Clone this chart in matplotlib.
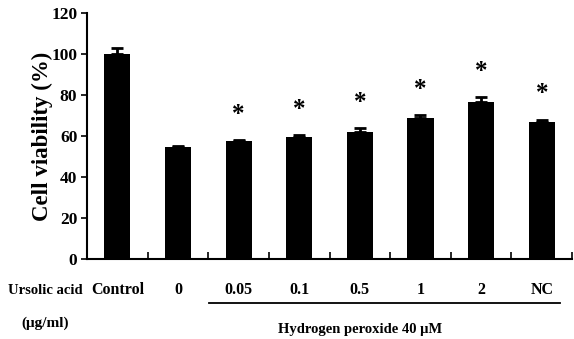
import matplotlib.pyplot as plt
import numpy as np

groups = ["Control", "0", "0.05", "0.1", "0.5", "1", "2", "NC"]
viability = [100, 54.5, 57.5, 59.5, 62, 69, 76.5, 67]
errors = [3, 0.8, 0.6, 0.8, 2, 1, 2.5, 1]
significant = [False, False, True, True, True, True, True, True]

plt.rcParams['font.family'] = ['Liberation Serif', 'DejaVu Serif']
plt.rcParams['font.weight'] = 'bold'

fig = plt.figure(figsize=(5.74, 3.39), dpi=100)
ax = fig.add_axes([0.1516, 0.236, 0.845, 0.7257])

x = np.arange(len(groups))
ax.bar(x, viability, width=0.43, color='black', zorder=2)
ax.errorbar(x, viability, yerr=[np.zeros(len(errors)), errors], fmt='none',
            ecolor='black', elinewidth=2, capsize=4, capthick=2, zorder=3)

for xi, v, e, s in zip(x, viability, errors, significant):
    if s:
        ax.text(xi, v + e + 12.5, "*", ha='center', va='center', fontsize=18)

ax.set_xlim(-0.5, 7.5)
ax.set_ylim(0, 120)
ax.set_yticks(range(0, 121, 20))
ax.set_xticks(np.arange(-0.5, 7.6, 1))
ax.set_xticklabels([])
ax.tick_params(axis='x', direction='in', length=5, width=1.2)
ax.tick_params(axis='y', direction='out', length=4, width=1.2, labelsize=12.5, pad=3)
ax.set_ylabel("Cell viability (%)", fontsize=16.5, fontweight='bold', labelpad=-1)

for side in ['top', 'right']:
    ax.spines[side].set_visible(False)
for side in ['left', 'bottom']:
    ax.spines[side].set_linewidth(1.5)

trans = ax.get_xaxis_transform()
for xi, g in zip(x, groups):
    ax.text(xi, -0.127, g, transform=trans, ha='center', va='center', fontsize=11.5)

fig.text(8 / 574, 1 - 290 / 339, "Ursolic acid", ha='left', va='center', fontsize=10.5)
fig.text(45 / 574, 1 - 323 / 339, "(\u03bcg/ml)", ha='center', va='center', fontsize=11)
fig.add_artist(plt.Line2D([209 / 574, 560 / 574], [1 - 303 / 339, 1 - 303 / 339],
                          color='black', lw=1.3))
fig.text(360 / 574, 1 - 330 / 339, "Hydrogen peroxide 40 \u03bcM", ha='center', va='center',
         fontsize=10.5)

fig.savefig("out.png", dpi=100)
